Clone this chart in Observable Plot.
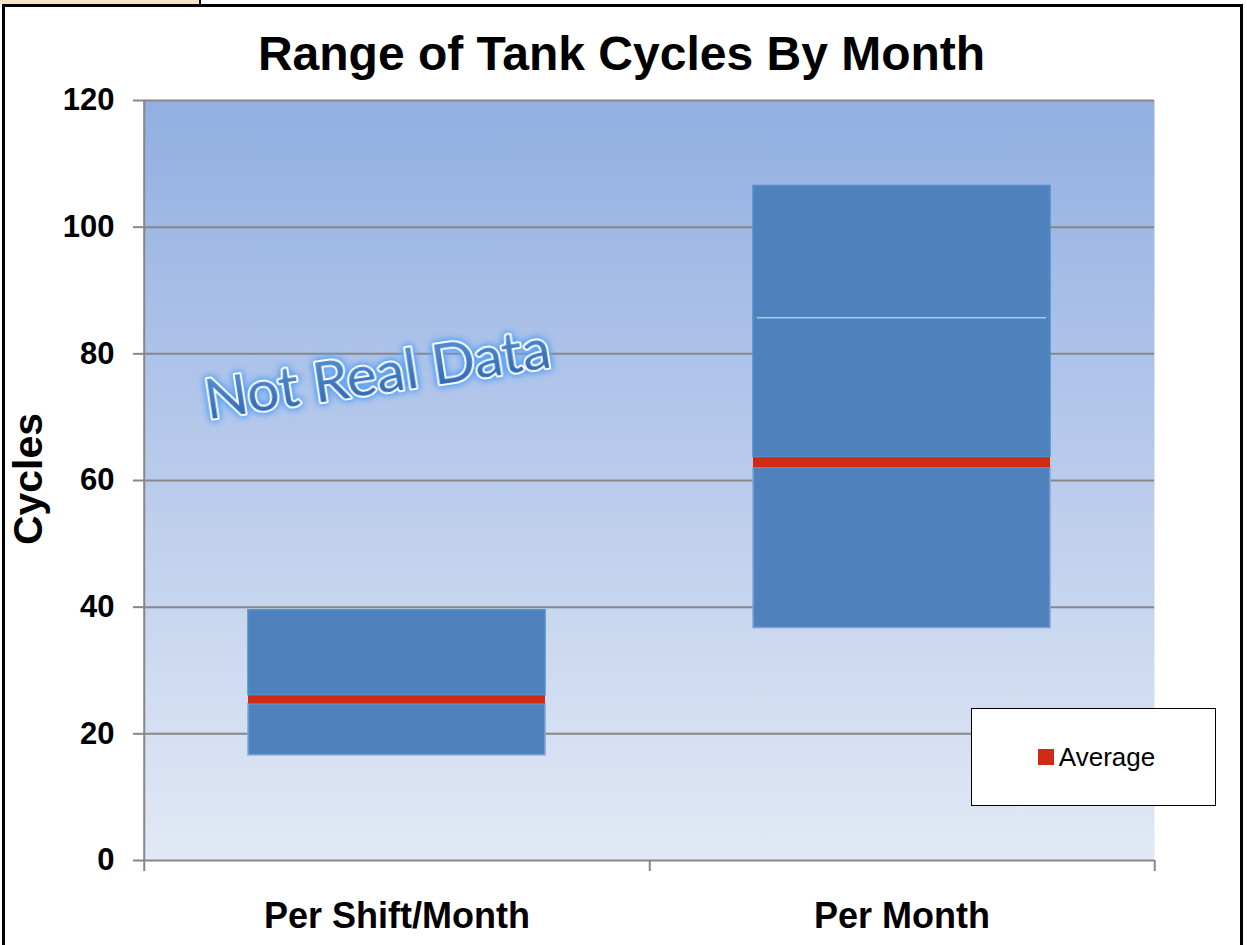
<!DOCTYPE html>
<html>
<head>
<meta charset="utf-8">
<script src="https://cdn.jsdelivr.net/npm/d3@7"></script>
<script src="https://cdn.jsdelivr.net/npm/@observablehq/plot@0.6"></script>
<style>
  html, body { margin: 0; padding: 0; background: #fff; overflow: hidden; }
  #page { position: relative; width: 1247px; height: 945px; overflow: hidden; font-family: "Liberation Sans", Arial, sans-serif; }
  #chart { position: absolute; left: 0; top: 0; }
  #frame { position: absolute; left: 2px; top: 4px; width: 1241px; height: 980px; box-sizing: border-box; border: 3px solid #000; pointer-events: none; }
  #strip { position: absolute; left: 0; top: 0; width: 199px; height: 4px; background: #f6e3c5; border-right: 2px solid #000; }
  #title { position: absolute; left: 0; top: 30px; width: 1243px; text-align: center; font-weight: bold; font-size: 48px; line-height: 47px; color: #000; }
  #ylabel { position: absolute; left: -122px; top: 459px; width: 300px; height: 40px; line-height: 40px; text-align: center; font-weight: bold; font-size: 41px; color: #000; transform: rotate(-90deg); }
  #legend { position: absolute; left: 971px; top: 708px; width: 245px; height: 98px; box-sizing: border-box; border: 1.5px solid #000; background: #fff; display: flex; align-items: center; justify-content: center; padding-left: 6px; }
  #legend .sw { width: 16px; height: 16px; background: #cf2b12; margin-right: 5px; }
  #legend .lb { font-size: 26px; color: #000; }
  .wm-text { filter: drop-shadow(0 0 3px #4f9cf5) drop-shadow(0 0 3px #6aaaf5); }
</style>
</head>
<body>
<div id="page">
  <div id="chart"></div>
  <div id="strip"></div>
  <div id="frame"></div>
  <div id="title"></div>
  <div id="ylabel"></div>
  <div id="legend"><div class="sw"></div><div class="lb"></div></div>
</div>
<script>
// ---- data ----
const categories = ["Per Shift/Month", "Per Month"];
const seriesNames = ["Minimum", "Lower range", "Average", "Upper range", "Top range"];
const minimumValues    = [16.6, 36.7];   // invisible base
const lowerRangeValues = [8.1, 25.3];
const averageValues    = [1.4, 1.7];     // red average band
const upperRangeValues = [13.4, 22.0];
const topRangeValues   = [0, 20.8];
const yTicks = [0, 20, 40, 60, 80, 100, 120];
const titleText = "Range of Tank Cycles By Month";
const yLabelText = "Cycles";
const legendLabel = "Average";
const watermarkText = "Not Real Data";

// ---- styles ----
const seriesFill = {"Minimum": "none", "Lower range": "#4f81bd", "Average": "#cf2b12", "Upper range": "#4f81bd", "Top range": "#4f81bd"};
const seriesStroke = {"Minimum": "none", "Lower range": "#7fa5d8", "Average": "none", "Upper range": "#4b8fcc", "Top range": "#4b8fcc"};

const seriesValues = [minimumValues, lowerRangeValues, averageValues, upperRangeValues, topRangeValues];
const rows = [];
seriesNames.forEach((s, si) => categories.forEach((c, ci) => {
  const v = seriesValues[si][ci];
  if (v > 0) rows.push({category: c, series: s, value: v});
}));
// boundary between upper and top segments (where a top segment exists)
const boundaries = categories.map((c, i) => ({
  category: c,
  y: minimumValues[i] + lowerRangeValues[i] + averageValues[i] + upperRangeValues[i],
  show: topRangeValues[i] > 0
})).filter(d => d.show);

const W = 1247, H = 945, mL = 143, mR = 93, mT = 100, mB = 85;
const step = (W - mL - mR) / categories.length;
const grey = "#878787";

const chart = Plot.plot({
  width: W, height: H,
  marginLeft: mL, marginRight: mR, marginTop: mT, marginBottom: mB,
  style: {background: "transparent", fontFamily: "'Liberation Sans', Arial, sans-serif", overflow: "visible"},
  x: {domain: categories, paddingInner: 0.4125, paddingOuter: 0.206, axis: null},
  y: {domain: [0, 120], axis: null},
  color: {type: "identity"},
  marks: [
    Plot.frame({fill: "url(#plotBg)", stroke: "none"}),
    Plot.gridY(yTicks, {stroke: grey, strokeOpacity: 1, strokeWidth: 2}),
    Plot.ruleX([categories[0]], {x: d => d, dx: -step / 2, y1: 120, y2: 0, insetBottom: -11, stroke: grey, strokeWidth: 2}),
    Plot.ruleX(categories, {x: d => d, dx: step / 2, y1: 0, y2: 0, insetBottom: -11, stroke: grey, strokeWidth: 2}),
    Plot.barY(rows, Plot.stackY({
      x: "category", y: "value", z: "series",
      fill: d => seriesFill[d.series],
      stroke: d => seriesStroke[d.series],
      strokeWidth: 1.5
    })),
    Plot.tickY(boundaries, {x: "category", y: "y", stroke: "#a9c5ee", strokeWidth: 1.5, insetLeft: 4, insetRight: 4}),
    Plot.axisY(yTicks, {tickSize: 10, tickPadding: 19, fontSize: 31, fontWeight: "bold", stroke: grey, strokeWidth: 2, fill: "#000", label: null, tickFormat: d => String(d)}),
    Plot.axisX(categories, {tickSize: 0, tickPadding: 42, fontSize: 36, fontWeight: "bold", fill: "#000", label: null}),
    Plot.text([watermarkText], {
      text: d => d, frameAnchor: "top-left", dx: 234, dy: 275, rotate: -8.6,
      fontSize: 57, fontFamily: "Lato, 'Open Sans', sans-serif",
      fill: "url(#wmFill)", stroke: "white", strokeWidth: 4,
      textAnchor: "middle", lineAnchor: "middle", ariaLabel: "watermark"
    })
  ]
});

document.getElementById("chart").appendChild(chart);

// gradient definitions
const svgNode = chart.tagName.toLowerCase() === "svg" ? chart : chart.querySelector("svg");
const svg = d3.select(svgNode);
const defs = svg.insert("defs", ":first-child");
const bg = defs.append("linearGradient").attr("id", "plotBg").attr("x1", 0).attr("y1", 0).attr("x2", 0).attr("y2", 1);
bg.append("stop").attr("offset", "0%").attr("stop-color", "#92afe2");
bg.append("stop").attr("offset", "100%").attr("stop-color", "#e2e9f5");
const wm = defs.append("linearGradient").attr("id", "wmFill").attr("x1", 0).attr("y1", 0).attr("x2", 0).attr("y2", 1);
wm.append("stop").attr("offset", "0%").attr("stop-color", "#5c97dc");
wm.append("stop").attr("offset", "100%").attr("stop-color", "#2a62ad");
// glow on the watermark text
svg.selectAll("text").filter(function() { return this.textContent === watermarkText; })
  .classed("wm-text", true)
  .attr("stroke", "white").attr("stroke-width", 4).attr("paint-order", "stroke").attr("stroke-linejoin", "round");

document.getElementById("title").textContent = titleText;
document.getElementById("ylabel").textContent = yLabelText;
document.querySelector("#legend .lb").textContent = legendLabel;
</script>
</body>
</html>
